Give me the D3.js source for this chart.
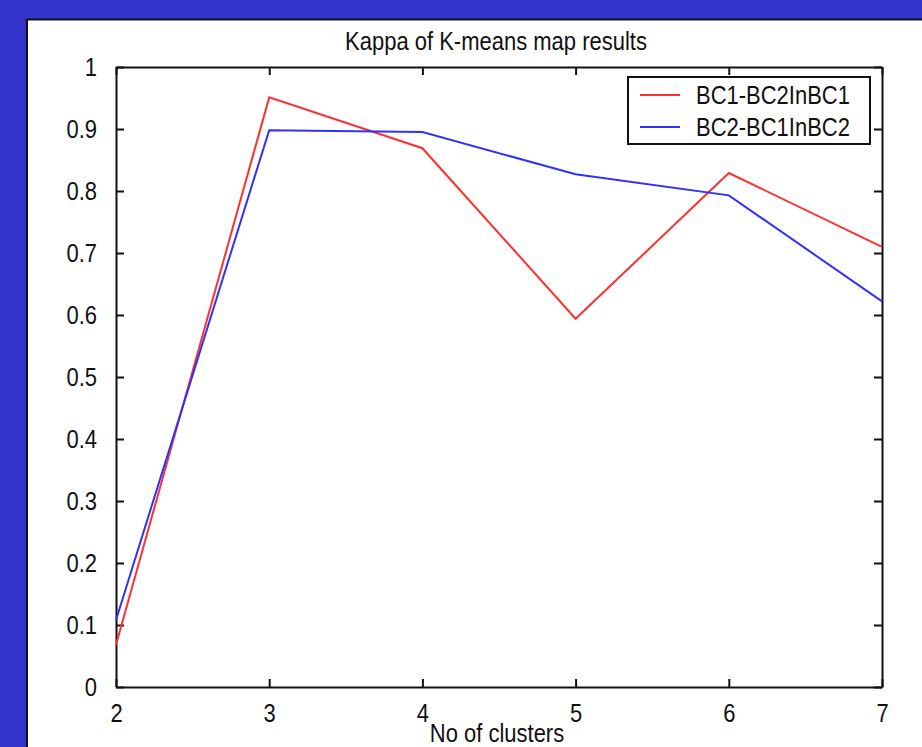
<!DOCTYPE html>
<html>
<head>
<meta charset="utf-8">
<script src="https://cdn.jsdelivr.net/npm/d3@7"></script>
<style>
  body { margin: 0; background: #3333cc; }
  svg text { font-family: Arial, "Liberation Sans", sans-serif; fill: #111; }
  .st { transform-box: fill-box; transform-origin: center; transform: scaleY(1.15); }
</style>
</head>
<body>
<script>
var clusters = [2, 3, 4, 5, 6, 7];
var bc1 = [0.068, 0.951, 0.869, 0.594, 0.829, 0.71];
var bc2 = [0.108, 0.898, 0.895, 0.827, 0.793, 0.622];
var seriesNames = ["BC1-BC2InBC1", "BC2-BC1InBC2"];
var seriesColors = ["#ff3030", "#3030ff"];
var yTicks = [0, 0.1, 0.2, 0.3, 0.4, 0.5, 0.6, 0.7, 0.8, 0.9, 1];

var svg = d3.select("body").append("svg")
    .attr("width", 922)
    .attr("height", 747)
    .style("display", "block");

svg.append("rect")
    .attr("x", 0).attr("y", 0)
    .attr("width", 922).attr("height", 747)
    .attr("fill", "#3333cc");

// white figure panel
svg.append("rect")
    .attr("x", 27).attr("y", 19.5)
    .attr("width", 900).attr("height", 740)
    .attr("fill", "#fff")
    .attr("stroke", "#111")
    .attr("stroke-width", 2);

var x = d3.scaleLinear().domain([2, 7]).range([116, 882]);
var y = d3.scaleLinear().domain([0, 1]).range([687, 67]);

// axes on all four sides, ticks pointing in
var bottom = svg.append("g").attr("transform", "translate(0,687)")
    .call(d3.axisBottom(x).tickValues(clusters).tickFormat(d3.format("d")).tickSizeInner(-8).tickSizeOuter(0).tickPadding(18));
var top = svg.append("g").attr("transform", "translate(0,67)")
    .call(d3.axisTop(x).tickValues(clusters).tickSizeInner(-8).tickSizeOuter(0).tickFormat(""));
var left = svg.append("g").attr("transform", "translate(116,0)")
    .call(d3.axisLeft(y).tickValues(yTicks).tickFormat(function(d) { return d === 0 || d === 1 ? d : d3.format(".1f")(d); }).tickSizeInner(-8).tickSizeOuter(0).tickPadding(19));
var right = svg.append("g").attr("transform", "translate(882,0)")
    .call(d3.axisRight(y).tickValues(yTicks).tickSizeInner(-8).tickSizeOuter(0).tickFormat(""));

svg.selectAll(".domain").attr("stroke", "#111").attr("stroke-width", 2);
svg.selectAll(".tick line").attr("stroke", "#111").attr("stroke-width", 2);
svg.selectAll(".tick text").attr("font-size", 22).attr("fill", "#111").attr("class", "st");

// lines
var line = d3.line()
    .x(function(d, i) { return x(clusters[i]); })
    .y(function(d) { return y(d); });

[bc1, bc2].forEach(function(s, i) {
    svg.append("path")
        .datum(s)
        .attr("d", line)
        .attr("fill", "none")
        .attr("stroke", seriesColors[i])
        .attr("stroke-width", 2);
});

// title and label
svg.append("text")
    .attr("class", "st")
    .attr("x", 496).attr("y", 49)
    .attr("text-anchor", "middle")
    .attr("font-size", 22)
    .text("Kappa of K-means map results");

svg.append("text")
    .attr("class", "st")
    .attr("x", 497).attr("y", 741)
    .attr("text-anchor", "middle")
    .attr("font-size", 22)
    .text("No of clusters");

// legend
var legend = svg.append("g");
legend.append("rect")
    .attr("x", 628).attr("y", 77)
    .attr("width", 242).attr("height", 67)
    .attr("fill", "#fff")
    .attr("stroke", "#111")
    .attr("stroke-width", 2);

seriesNames.forEach(function(n, i) {
    var ly = 95 + i * 32;
    legend.append("line")
        .attr("x1", 640).attr("x2", 680)
        .attr("y1", ly).attr("y2", ly)
        .attr("stroke", seriesColors[i])
        .attr("stroke-width", 2);
    legend.append("text")
        .attr("class", "st")
        .attr("x", 696).attr("y", ly + 8)
        .attr("font-size", 22)
        .text(n);
});
</script>
</body>
</html>
